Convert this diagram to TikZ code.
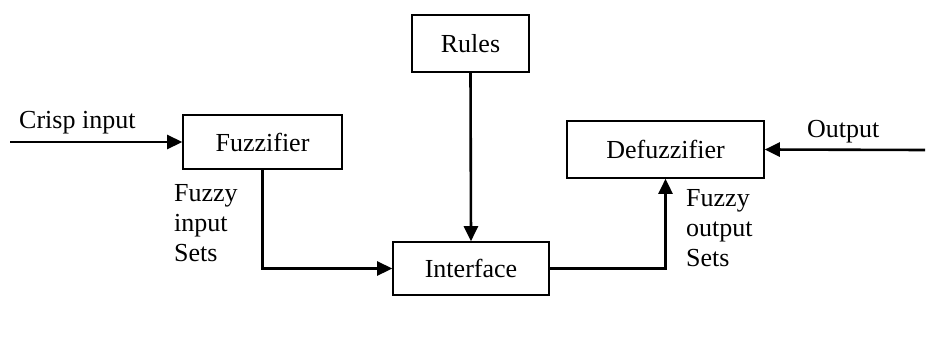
\documentclass[tikz,border=0pt]{standalone}
\usepackage{fontspec}
\setmainfont{Liberation Serif}
\usetikzlibrary{arrows.meta}
\tikzset{
  blk/.style={draw, line width=1.6pt, inner sep=0pt, font=\fontsize{26}{30}\selectfont},
  lbl/.style={inner sep=0pt, anchor=base west, align=left, font=\fontsize{26}{30}\selectfont},
  flow/.style={line width=2.6pt, -{Triangle[length=15pt,width=14pt]}}
}
\begin{document}
\begin{tikzpicture}[x=1pt,y=-1pt]
    \useasboundingbox (0,0) rectangle (931,361);
    \node[blk, minimum width=159pt, minimum height=54pt] (fuzz) at (262.5,142) {Fuzzifier};
    \node[blk, minimum width=117pt, minimum height=57pt] (rules) at (470.5,43.5) {Rules};
    \node[blk, minimum width=156pt, minimum height=53pt] (inter) at (471,268.5) {Interface};
    \node[blk, minimum width=197pt, minimum height=57pt] (defuzz) at (665.5,149.5) {Defuzzifier};
    \coordinate (crisp) at (10,142);
    \coordinate (outp) at (925,150);
    \draw[flow] (crisp) -- (fuzz.west);
    \draw[flow] (rules.south) -- (inter.north);
    \draw[flow] (fuzz.south) |- (inter.west);
    \draw[flow] (inter.east) -| (defuzz.south);
    \draw[flow] (outp) -- (defuzz.east);
    \node[lbl] (lcrisp) at (19,128) {Crisp input};
    \node[lbl] (lout) at (807,137) {Output};
    \node[lbl] (lfin) at (174,261) {Fuzzy\\input\\Sets};
    \node[lbl] (lfout) at (686,266) {Fuzzy\\output\\Sets};
\end{tikzpicture}
\end{document}
